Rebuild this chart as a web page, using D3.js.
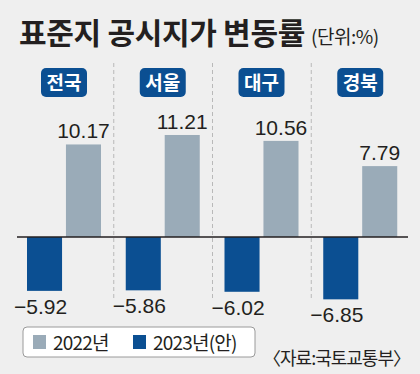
<!DOCTYPE html>
<html>
<head>
<meta charset="utf-8">
<script src="https://cdn.jsdelivr.net/npm/d3@7"></script>
<style>
  html, body { margin: 0; padding: 0; background: #efefef; }
  svg { display: block; }
  .num { font-family: "Liberation Sans Narrow", "Liberation Sans", Arial, sans-serif; }
  .kr { font-family: "Noto Sans CJK KR", "Noto Sans", sans-serif; }
</style>
</head>
<body>
<div class="chart"></div>
<script>
var regions = ['전국', '서울', '대구', '경북'];
var values2022 = [10.17, 11.21, 10.56, 7.79];
var values2023 = [-5.92, -5.86, -6.02, -6.85];
var seriesNames = ['2022년', '2023년(안)'];

var width = 420, height = 374;
var colors = { y2022: '#9aabb8', y2023: '#0b4f92' };

var svg = d3.select('div.chart').append('svg')
    .attr('width', width)
    .attr('height', height);

svg.append('rect')
  .attr('width', width).attr('height', height)
  .attr('fill', '#efefef');

// title
var title = svg.append('text')
    .attr('x', 19)
    .attr('y', 44)
    .attr('class', 'kr')
    .attr('fill', '#231f20');
title.append('tspan')
  .attr('font-size', 30).attr('font-weight', 700)
  .attr('letter-spacing', -0.3)
  .text('표준지 공시지가 변동률');
title.append('tspan')
  .attr('dx', 6)
  .attr('font-size', 19).attr('font-weight', 400)
  .attr('letter-spacing', -0.5)
  .text('(단위:%)');

// scales
var xScale = d3.scaleBand()
    .domain(regions)
    .range([18, 413])
    .paddingInner(0)
    .paddingOuter(0);
var inner = d3.scaleBand()
    .domain(['y2023', 'y2022'])
    .range([9, 83])
    .paddingInner(0.1);
var yScale = d3.scaleLinear()
    .domain([0, 10])
    .range([237, 146]);

// dashed separators
svg.selectAll('line.sep')
  .data(regions.slice(1))
  .enter().append('line')
  .attr('class', 'sep')
  .attr('x1', function (d) { return xScale(d) - 3; })
  .attr('x2', function (d) { return xScale(d) - 3; })
  .attr('y1', 63)
  .attr('y2', 298)
  .attr('stroke', '#b9b9b9')
  .attr('stroke-width', 1)
  .attr('stroke-dasharray', '4,3');

var groups = svg.selectAll('g.group')
    .data(regions)
    .enter().append('g')
    .attr('class', 'group')
    .attr('transform', function (d) { return 'translate(' + xScale(d) + ',0)'; });

// region label boxes
var center = (inner('y2023') + inner('y2022') + inner.bandwidth()) / 2;
groups.append('rect')
  .attr('x', center - 23)
  .attr('y', 68)
  .attr('width', 46)
  .attr('height', 29)
  .attr('rx', 5)
  .attr('fill', colors.y2023);
groups.append('text')
  .attr('class', 'kr')
  .attr('x', center)
  .attr('y', 89.5)
  .attr('text-anchor', 'middle')
  .attr('font-size', 19)
  .attr('font-weight', 700)
  .attr('fill', '#fff')
  .text(function (d) { return d; });

// bars 2022
groups.append('rect')
  .attr('x', inner('y2022'))
  .attr('width', inner.bandwidth())
  .attr('y', function (d, i) { return yScale(values2022[i]); })
  .attr('height', function (d, i) { return yScale(0) - yScale(values2022[i]); })
  .attr('fill', colors.y2022);

// bars 2023
groups.append('rect')
  .attr('x', inner('y2023'))
  .attr('width', inner.bandwidth())
  .attr('y', yScale(0))
  .attr('height', function (d, i) { return yScale(values2023[i]) - yScale(0); })
  .attr('fill', colors.y2023);

// value labels
groups.append('text')
  .attr('class', 'num')
  .attr('x', inner('y2022') + inner.bandwidth() / 2)
  .attr('y', function (d, i) { return yScale(values2022[i]) - 6; })
  .attr('text-anchor', 'middle')
  .attr('font-size', 21)
  .attr('fill', '#231f20')
  .text(function (d, i) { return values2022[i].toFixed(2); });

groups.append('text')
  .attr('class', 'num')
  .attr('x', inner('y2023') + inner.bandwidth() / 2 - 4)
  .attr('y', function (d, i) { return yScale(values2023[i]) + 23; })
  .attr('text-anchor', 'middle')
  .attr('font-size', 21)
  .attr('fill', '#231f20')
  .text(function (d, i) { return '\u2212' + Math.abs(values2023[i]).toFixed(2); });

// zero line
svg.append('line')
  .attr('x1', 17).attr('x2', 408)
  .attr('y1', yScale(0)).attr('y2', yScale(0))
  .attr('stroke', '#231f20')
  .attr('stroke-width', 1.5);

// legend
var legend = svg.append('g').attr('transform', 'translate(23,327)');
legend.append('rect')
  .attr('width', 232).attr('height', 30)
  .attr('rx', 4)
  .attr('fill', '#fff')
  .attr('stroke', '#9a9a9a')
  .attr('stroke-width', 1);
var legendX = [10, 110];
var legendKeys = ['y2022', 'y2023'];
legend.selectAll('g.item')
  .data(seriesNames)
  .enter().append('g')
  .attr('class', 'item')
  .attr('transform', function (d, i) { return 'translate(' + legendX[i] + ',0)'; })
  .each(function (d, i) {
    var g = d3.select(this);
    g.append('rect')
      .attr('x', 0).attr('y', 8)
      .attr('width', 13).attr('height', 14)
      .attr('fill', colors[legendKeys[i]]);
    g.append('text')
      .attr('class', 'kr')
      .attr('x', 20).attr('y', 22.5)
      .attr('font-size', 19)
      .attr('letter-spacing', -0.8)
      .attr('fill', '#231f20')
      .text(d);
  });

// source
svg.append('text')
  .attr('class', 'kr')
  .attr('x', 410).attr('y', 365)
  .attr('text-anchor', 'end')
  .attr('font-size', 18)
  .attr('letter-spacing', -1)
  .attr('fill', '#231f20')
  .text('〈자료:국토교통부〉');
</script>
</body>
</html>
